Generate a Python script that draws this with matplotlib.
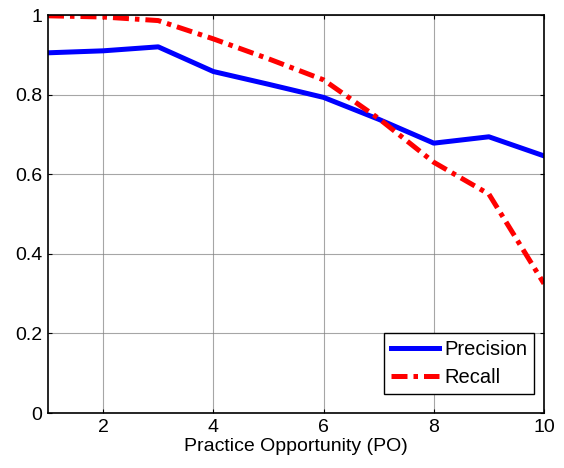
import matplotlib.pyplot as plt

po = [1, 2, 3, 4, 5, 6, 7, 8, 9, 10]
precision = [0.905, 0.910, 0.920, 0.858, 0.826, 0.793, 0.738, 0.678, 0.694, 0.646]
recall = [0.998, 0.995, 0.986, 0.940, 0.890, 0.837, 0.740, 0.630, 0.550, 0.325]

plt.rcParams['font.family'] = ['Liberation Sans', 'DejaVu Sans']

fig = plt.figure(figsize=(5.64, 4.68), dpi=100)
ax = fig.add_axes([48 / 564, 1 - 413 / 468, (544 - 48) / 564, (413 - 15) / 468])

ax.plot(po, precision, color='#0000ff', lw=3.6, label='Precision')
ax.plot(po, recall, color='#ff0000', lw=3.6, ls=(0, (3.2, 1.2, 0.9, 1.2)), label='Recall')

ax.set_xlim(1, 10)
ax.set_ylim(0, 1)
ax.set_xticks([2, 4, 6, 8, 10])
ax.set_yticks([0, 0.2, 0.4, 0.6, 0.8, 1])
ax.set_yticklabels(['0', '0.2', '0.4', '0.6', '0.8', '1'])
ax.grid(True, color='#808080', lw=0.8, alpha=0.7)
ax.tick_params(direction='in', top=True, right=True, length=3, labelsize=14, pad=4)
for s in ax.spines.values():
    s.set_linewidth(1.2)

ax.set_xlabel('Practice Opportunity (PO)', fontsize=14, labelpad=2)

leg = ax.legend(loc='lower right', fontsize=14.5, fancybox=False, framealpha=1,
                edgecolor='black', borderpad=0.35, handlelength=2.4, handletextpad=0.25,
                labelspacing=0.45, borderaxespad=0, bbox_to_anchor=(0.98, 0.048))
leg.get_frame().set_linewidth(1.0)

fig.savefig('out.png', dpi=100)
